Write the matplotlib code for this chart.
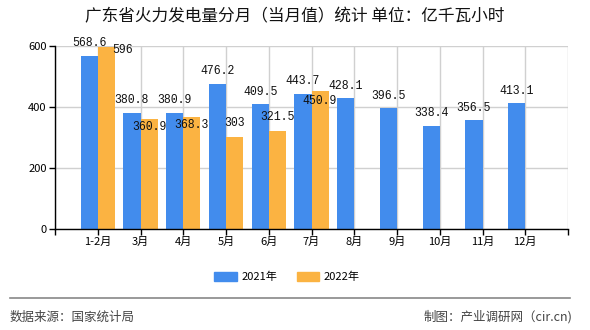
import matplotlib
matplotlib.use("Agg")
import matplotlib.pyplot as plt
from matplotlib.patches import Patch

plt.rcParams['font.family'] = ['Noto Sans CJK SC', 'DejaVu Sans']

categories = ["1-2月", "3月", "4月", "5月", "6月", "7月", "8月", "9月", "10月", "11月", "12月"]
v2021 = [568.6, 380.8, 380.9, 476.2, 409.5, 443.7, 428.1, 396.5, 338.4, 356.5, 413.1]
v2022 = [596, 360.9, 368.3, 303, 321.5, 450.9]
yticks = [0, 200, 400, 600]

title = "广东省火力发电量分月（当月值）统计 单位：亿千瓦小时"
c2021 = "#428ced"
c2022 = "#fbb342"

# label offsets (points) for 2022 labels (dx, dy relative to bar top)
off2022 = [(12, -2), (0, -6), (0, -6), (0, 10), (0, 10), (0, -7)]

fig = plt.figure(figsize=(5.9, 3.3), dpi=100)
ax = fig.add_axes([55/590, 1-229/330, (568-55)/590, (229-46)/330])

w = 0.40
x1 = [i - w/2 for i in range(len(v2021))]
x2 = [i + w/2 for i in range(len(v2022))]
ax.bar(x1, v2021, width=w, color=c2021, zorder=3)
ax.bar(x2, v2022, width=w, color=c2022, zorder=3)

lab_font = dict(family=['Liberation Mono', 'DejaVu Sans Mono'], fontsize=8.3, color='#111111')
for x, v in zip(x1, v2021):
    ax.annotate(f"{v:g}", (x, v), xytext=(0, 9), textcoords='offset points',
                ha='center', va='center', zorder=5, **lab_font)
for x, v, (dx, dy) in zip(x2, v2022, off2022):
    ax.annotate(f"{v:g}", (x, v), xytext=(dx, dy), textcoords='offset points',
                ha='center', va='center', zorder=5, **lab_font)

ax.set_xlim(-1, len(categories))
ax.set_ylim(0, 600)
ax.set_yticks(yticks)
ax.set_yticklabels([str(t) for t in yticks], fontsize=8)
ax.set_xticks(range(-1, len(categories) + 1))
ax.set_xticklabels([""] + categories + [""], fontsize=8)
ax.tick_params(axis='both', length=4, width=1, color='black', pad=2)
ax.grid(True, color='#d0d0d0', linewidth=1, zorder=0)
for s in ['top', 'right']:
    ax.spines[s].set_visible(False)
for s in ['left', 'bottom']:
    ax.spines[s].set_color('black')
    ax.spines[s].set_linewidth(1)
    ax.spines[s].set_zorder(4)

fig.text(0.5, 1-17/330, title, ha='center', va='center', fontsize=12, color='#111111')

handles = [Patch(color=c2021, label="2021年"), Patch(color=c2022, label="2022年")]
fig.legend(handles=handles, loc='center', bbox_to_anchor=(287/590, 1-277/330), ncol=2,
           frameon=False, fontsize=8, handlelength=2.0, handleheight=0.8,
           columnspacing=1.8, handletextpad=0.4)

fig.add_artist(plt.Line2D([10/590, 570/590], [1-298/330, 1-298/330], color='#888888', linewidth=1.2))
fig.text(10/590, 1-317/330, "数据来源：国家统计局", ha='left', va='center', fontsize=9, color='#444444')
fig.text(572/590, 1-317/330, "制图：产业调研网（cir.cn)", ha='right', va='center', fontsize=9, color='#444444')

fig.savefig("out.png", dpi=100)
